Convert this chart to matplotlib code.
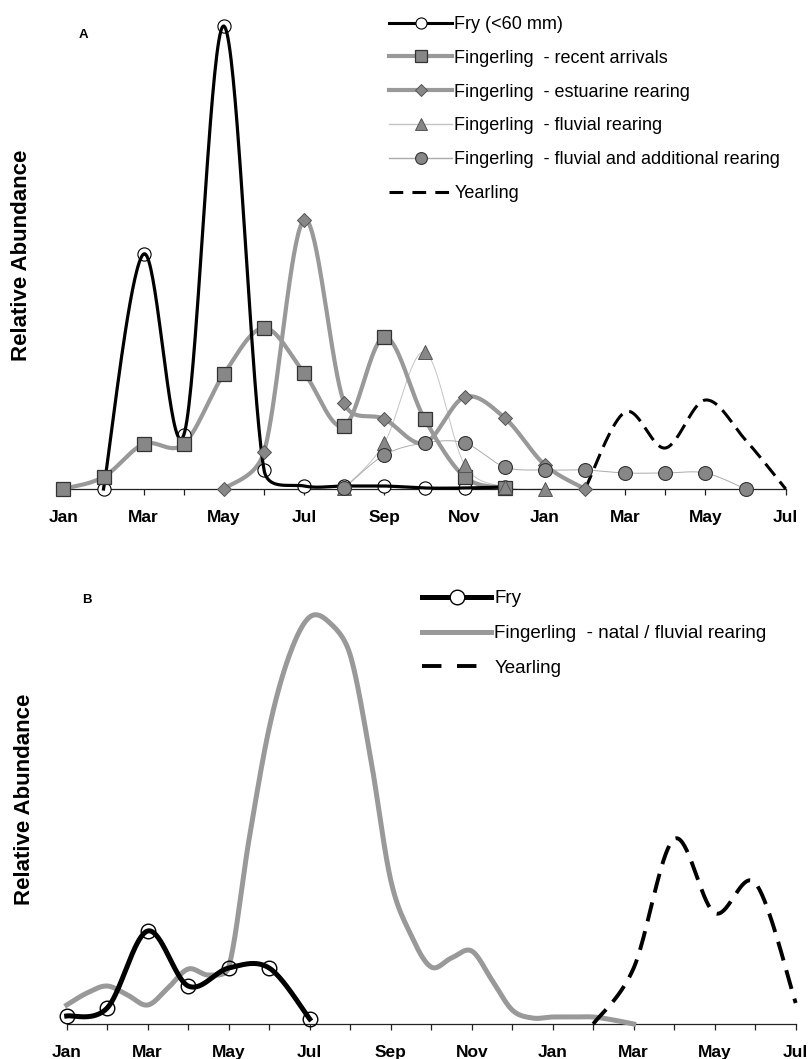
import numpy as np
import matplotlib
matplotlib.use('Agg')
import matplotlib.pyplot as plt
from matplotlib.lines import Line2D

plt.rcParams['font.family'] = ['Liberation Sans', 'DejaVu Sans']

# ---------------- data ----------------
tick_labels = ['Jan', 'Mar', 'May', 'Jul', 'Sep', 'Nov', 'Jan', 'Mar', 'May', 'Jul']

# Panel A (month index 0 = Jan of year 1)
a_fry_m = [1, 2, 3, 4, 5, 6, 7, 8, 9, 10, 11]
a_fry = [0, 235, 54, 463, 19, 3, 3, 3, 1, 1, 2]

a_recent_m = [0, 1, 2, 3, 4, 5, 6, 7, 8, 9, 10, 11]
a_recent = [0, 12, 45, 45, 115, 161, 116, 63, 152, 70, 12, 1]

a_estu_m = [4, 5, 6, 7, 8, 9, 10, 11, 12, 13]
a_estu = [0, 37, 269, 86, 70, 46, 92, 71, 24, 0]

a_fluv_m = [7, 8, 9, 10, 11, 12]
a_fluv = [1, 46, 137, 24, 2, 0]

a_fladd_m = [7, 8, 9, 10, 11, 12, 13, 14, 15, 16, 17]
a_fladd = [1, 34, 46, 46, 22, 19, 19, 16, 16, 16, 0]

a_year_m = [13, 14, 15, 16, 17, 18]
a_year = [0, 77, 41, 89, 49, 0]

# Panel B
b_fry_m = [0, 1, 2, 3, 4, 5, 6]
b_fry = [8, 16, 93, 38, 56, 56, 5]

b_fing_m = [0, 0.5, 1, 1.5, 2, 2.5, 3, 3.5, 4, 4.5, 5, 5.5, 6, 6.5, 7, 7.5,
            8, 8.5, 9, 9.5, 10, 10.5, 11, 11.5, 12, 12.5, 13, 13.5, 14]
b_fing = [19, 31, 38, 29, 19, 36, 55, 49, 57, 184, 296, 369, 407, 401, 369, 267,
          144, 89, 57, 66, 73, 44, 14, 6, 7, 7, 7, 4, 0]

b_year_m = [13, 14, 15, 16, 17, 18]
b_year = [0, 56, 185, 111, 141, 21]

# ---------------- helpers ----------------
def smooth(ax, xs, ys, n=40):
    """Excel-like smoothed line computed in display space."""
    P = ax.transData.transform(np.column_stack([xs, ys]).astype(float))
    N = len(P)
    out = [P[0]]
    t = np.linspace(0, 1, n)[1:, None]
    for i in range(N - 1):
        p0 = P[i - 1] if i > 0 else P[i]
        p1 = P[i]
        p2 = P[i + 1]
        p3 = P[i + 2] if i + 2 < N else P[i + 1]
        seg = np.hypot(*(p2 - p1))
        d1 = p2 - p0
        n1 = np.hypot(*d1)
        c1 = p1 + (d1 / n1) * min(n1 / 6, seg / 2) if n1 > 0 else p1
        d2 = p3 - p1
        n2 = np.hypot(*d2)
        c2 = p2 - (d2 / n2) * min(n2 / 6, seg / 2) if n2 > 0 else p2
        B = ((1 - t) ** 3) * p1 + 3 * ((1 - t) ** 2) * t * c1 + 3 * (1 - t) * t ** 2 * c2 + t ** 3 * p2
        out.extend(B)
    out = np.array(out)
    return ax.transData.inverted().transform(out)


def style_axis(ax, ymax):
    ax.set_xlim(0, 18)
    ax.set_ylim(0, ymax)
    for s in ['left', 'top', 'right']:
        ax.spines[s].set_visible(False)
    ax.spines['bottom'].set_linewidth(0.9)
    ax.spines['bottom'].set_color('#222222')
    ax.set_yticks([])
    ax.set_xticks(np.arange(0, 19, 2))
    ax.set_xticks(np.arange(0, 19, 1), minor=True)
    ax.set_xticklabels(tick_labels, fontsize=12.5, fontweight='bold')
    ax.tick_params(axis='x', which='both', direction='out', length=4.3, width=0.9,
                   color='#222222', pad=10.5)
    ax.set_facecolor('none')


W, H = 809, 1059
fig = plt.figure(figsize=(W / 100, H / 100), dpi=100)

# ---------------- Panel A ----------------
axA = fig.add_axes([63.4 / W, 1 - 489 / H, (785.7 - 63.4) / W, 469 / H])
style_axis(axA, 469)

GRAY_LINE = '#999999'
MK_FILL = '#878787'
MK_EDGE = '#333333'

c = smooth(axA, a_fluv_m, a_fluv)
axA.plot(c[:, 0], c[:, 1], color='#c4c4c4', lw=0.7, zorder=2, clip_on=False)
c = smooth(axA, a_fladd_m, a_fladd)
axA.plot(c[:, 0], c[:, 1], color='#ababab', lw=0.7, zorder=2, clip_on=False)
c = smooth(axA, a_recent_m, a_recent)
axA.plot(c[:, 0], c[:, 1], color=GRAY_LINE, lw=3.0, zorder=3, clip_on=False, solid_capstyle='round')
c = smooth(axA, a_estu_m, a_estu)
axA.plot(c[:, 0], c[:, 1], color=GRAY_LINE, lw=3.0, zorder=3, clip_on=False, solid_capstyle='round')
c = smooth(axA, a_year_m, a_year)
axA.plot(c[:, 0], c[:, 1], color='black', lw=2.2, dashes=(5, 2.5), zorder=4, clip_on=False)

axA.plot(a_fry_m, a_fry, ls='none', marker='o', ms=9.5, mfc='white', mec='black', mew=0.8,
         zorder=4.2, clip_on=False)
c = smooth(axA, a_fry_m, a_fry)
axA.plot(c[:, 0], c[:, 1], color='black', lw=2.3, zorder=4.5, clip_on=False)

axA.plot(a_recent_m, a_recent, ls='none', marker='s', ms=10, mfc=MK_FILL, mec=MK_EDGE, mew=0.9,
         zorder=5, clip_on=False)
axA.plot(a_estu_m, a_estu, ls='none', marker='D', ms=7.5, mfc=MK_FILL, mec='#555555', mew=0.7,
         zorder=5, clip_on=False)
axA.plot(a_fluv_m, a_fluv, ls='none', marker='^', ms=10, mfc=MK_FILL, mec='#555555', mew=0.7,
         zorder=5, clip_on=False)
axA.plot(a_fladd_m, a_fladd, ls='none', marker='o', ms=10, mfc=MK_FILL, mec=MK_EDGE, mew=0.8,
         zorder=5.1, clip_on=False)

hA = [
    Line2D([], [], color='black', lw=2.2, marker='o', ms=8, mfc='white', mec='black', mew=0.8),
    Line2D([], [], color=GRAY_LINE, lw=3.0, marker='s', ms=8, mfc=MK_FILL, mec=MK_EDGE, mew=0.9),
    Line2D([], [], color=GRAY_LINE, lw=3.0, marker='D', ms=6.5, mfc=MK_FILL, mec='#555555', mew=0.7),
    Line2D([], [], color='#c4c4c4', lw=1.0, marker='^', ms=8.5, mfc=MK_FILL, mec='#555555', mew=0.7),
    Line2D([], [], color='#ababab', lw=1.0, marker='o', ms=8.5, mfc=MK_FILL, mec=MK_EDGE, mew=0.8),
    Line2D([], [], color='black', lw=2.2, dashes=(4.5, 3)),
]
lA = ['Fry (<60 mm)', 'Fingerling  - recent arrivals', 'Fingerling  - estuarine rearing',
      'Fingerling  - fluvial rearing', 'Fingerling  - fluvial and additional rearing', 'Yearling']
axA.legend(hA, lA, loc='upper left', bbox_to_anchor=(389 / W, 1 - 16 / H),
           bbox_transform=fig.transFigure, frameon=False, fontsize=13, handlelength=3.5,
           handletextpad=0.12, labelspacing=0.93, borderpad=0, borderaxespad=0)

fig.text(83 / W, 1 - 35 / H, 'A', fontsize=9.5, fontweight='bold', ha='center', va='center')
fig.text(22 / W, 1 - 255 / H, 'Relative Abundance', fontsize=16, fontweight='bold',
         rotation=90, ha='center', va='center')

# ---------------- Panel B ----------------
axB = fig.add_axes([66.7 / W, 1 - 1024 / H, (795.7 - 66.7) / W, 450 / H])
style_axis(axB, 450)

c = smooth(axB, b_fing_m, b_fing)
axB.plot(c[:, 0], c[:, 1], color=GRAY_LINE, lw=3.6, zorder=3, clip_on=False)
c = smooth(axB, b_year_m, b_year)
axB.plot(c[:, 0], c[:, 1], color='black', lw=2.8, dashes=(5, 2.6), zorder=4, clip_on=False)
c = smooth(axB, b_fry_m, b_fry)
axB.plot(c[:, 0], c[:, 1], color='black', lw=3.6, zorder=4.5, clip_on=False)
axB.plot(b_fry_m, b_fry, ls='none', marker='o', ms=10.5, mfc='none', mec='black', mew=1.0,
         zorder=5, clip_on=False)

hB = [
    Line2D([], [], color='black', lw=3.6, marker='o', ms=10.5, mfc='white', mec='black', mew=1.0),
    Line2D([], [], color=GRAY_LINE, lw=3.6),
    Line2D([], [], color='black', lw=2.8, dashes=(5, 4)),
]
lB = ['Fry', 'Fingerling  - natal / fluvial rearing', 'Yearling']
axB.legend(hB, lB, loc='upper left', bbox_to_anchor=(422 / W, 1 - 590 / H),
           bbox_transform=fig.transFigure, frameon=False, fontsize=13.5, handlelength=3.7,
           handletextpad=0.15, labelspacing=0.95, borderpad=0, borderaxespad=0)

fig.text(87 / W, 1 - 600 / H, 'B', fontsize=9.5, fontweight='bold', ha='center', va='center')
fig.text(25 / W, 1 - 799 / H, 'Relative Abundance', fontsize=16, fontweight='bold',
         rotation=90, ha='center', va='center')

fig.savefig('out.png', dpi=100)
